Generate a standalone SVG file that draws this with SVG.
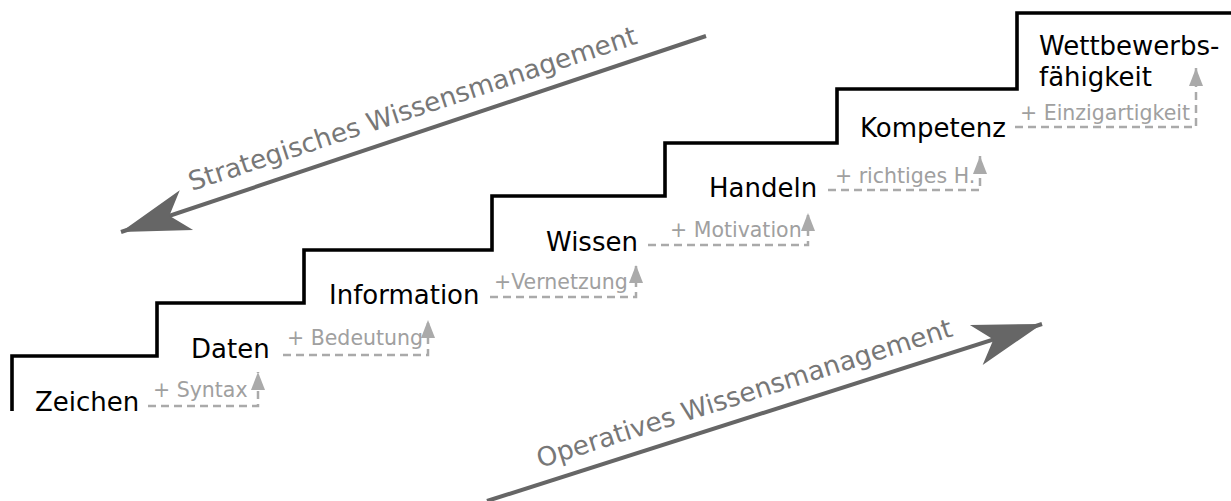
<svg xmlns="http://www.w3.org/2000/svg" width="1231" height="501" viewBox="0 0 1231 501">
  <style>
    .stair { fill: none; stroke: #000; stroke-width: 3.6; stroke-linejoin: miter; }
    .label { font-family: "DejaVu Sans", sans-serif; font-size: 26px; fill: #000; }
    .gain { font-family: "DejaVu Sans", sans-serif; font-size: 20.5px; fill: #a0a0a0; }
    .step { fill: none; stroke: #aaa; stroke-width: 2.5; stroke-dasharray: 8 5; marker-end: url(#smallHead); }
    .flow { fill: none; stroke: #666; stroke-width: 4; marker-end: url(#bigHead); }
    .flowText { font-family: "DejaVu Sans", sans-serif; font-size: 26.3px; fill: #777; }
  </style>
  <defs>
    <marker id="smallHead" markerUnits="userSpaceOnUse" orient="auto" markerWidth="22" markerHeight="16" refX="18" refY="7" viewBox="0 0 22 14" overflow="visible">
      <path d="M0,0 L18,7 L0,14 Z" fill="#aaa"/>
    </marker>
    <marker id="bigHead" markerUnits="userSpaceOnUse" orient="auto" markerWidth="72" markerHeight="44" refX="69" refY="21" viewBox="0 0 72 42" overflow="visible">
      <path d="M0,0 L69,21 L0,42 L18,21 Z" fill="#666"/>
    </marker>
  </defs>

  <!-- staircase outline -->
  <path id="staircase" class="stair" d="M12,411 V356 H157 V303 H304 V250 H492 V196 H665 V143 H837 V89 H1017 V13 H1231"/>

  <!-- dashed gain connectors between levels, plus the two management arrows -->
  <g id="connectors">
    <path class="step" d="M148,406 H258 V372"/>
    <path class="step" d="M283,355 H428 V320"/>
    <path class="step" d="M490,297 H636 V265"/>
    <path class="step" d="M648,245 H808 V213"/>
    <path class="step" d="M828,190 H980 V156"/>
    <path class="step" d="M1015,127 H1196 V68"/>
    <path class="flow" d="M706,36 L121,232"/>
    <path class="flow" d="M487,501 L1042,324"/>
  </g>

  <g id="zeichen"><text class="label" x="35" y="411">Zeichen</text></g>
  <g id="daten"><text class="label" x="191" y="358">Daten</text></g>
  <g id="information"><text class="label" x="329" y="304">Information</text></g>
  <g id="wissen"><text class="label" x="546" y="251">Wissen</text></g>
  <g id="handeln"><text class="label" x="709" y="197">Handeln</text></g>
  <g id="kompetenz"><text class="label" x="860" y="137">Kompetenz</text></g>
  <g id="wettbewerb">
    <text class="label" x="1039" y="55">Wettbewerbs-</text>
    <text class="label" x="1039" y="86">fähigkeit</text>
  </g>

  <g id="gains">
    <text class="gain" x="153" y="397">+ Syntax</text>
    <text class="gain" x="287" y="345">+ Bedeutung</text>
    <text class="gain" x="494" y="289">+Vernetzung</text>
    <text class="gain" x="670" y="237">+ Motivation</text>
    <text class="gain" x="835" y="183">+ richtiges H.</text>
    <text class="gain" x="1020" y="120">+ Einzigartigkeit</text>
  </g>

  <g id="strategic">
    <text class="flowText" transform="translate(192,191) rotate(-18.3)">Strategisches Wissensmanagement</text>
  </g>
  <g id="operative">
    <text class="flowText" transform="translate(540,468) rotate(-17.7)">Operatives Wissensmanagement</text>
  </g>
</svg>
